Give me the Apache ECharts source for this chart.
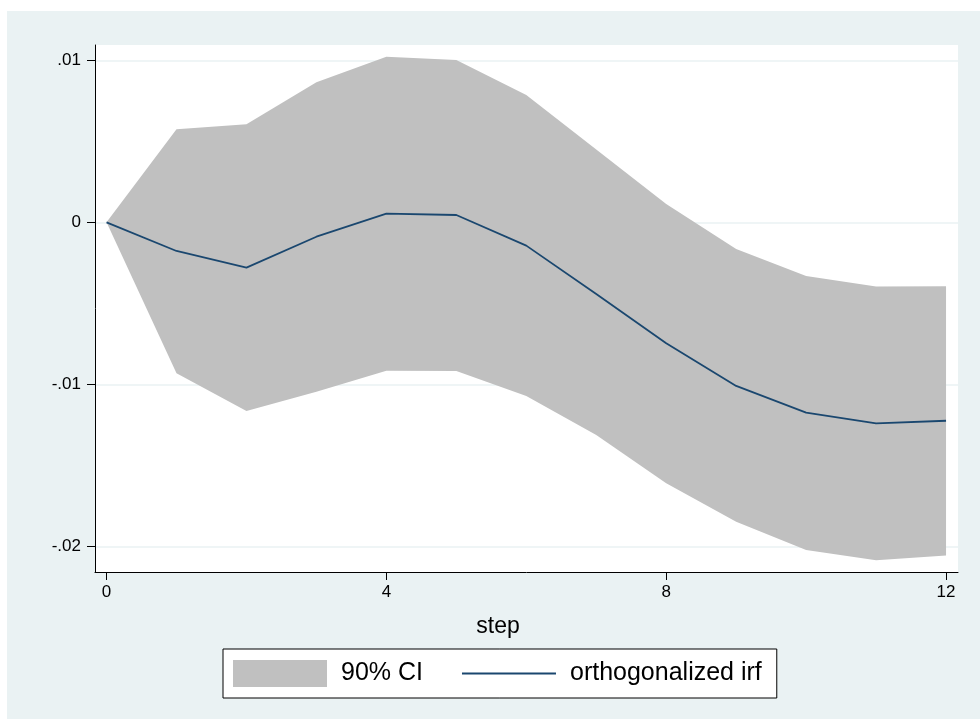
<!DOCTYPE html>
<html>
<head>
<meta charset="utf-8">
<script src="https://cdn.jsdelivr.net/npm/echarts@6/dist/echarts.min.js"></script>
<style>
html,body{margin:0;padding:0;background:#fff;}
#chart{width:980px;height:719px;}
</style>
</head>
<body>
<div id="chart"></div>
<script>
// Data
var steps = [0, 1, 2, 3, 4, 5, 6, 7, 8, 9, 10, 11, 12];
var ciUpper = [0, 0.00574, 0.00605, 0.00864, 0.01022, 0.01002, 0.00786, 0.0045, 0.00113, -0.00165, -0.00331, -0.00397, -0.00395];
var ciLower = [0, -0.00932, -0.01165, -0.01046, -0.00916, -0.00918, -0.01072, -0.01313, -0.01611, -0.01848, -0.02023, -0.02086, -0.02056];
var irf = [0, -0.00177, -0.0028, -0.00089, 0.00053, 0.00045, -0.00144, -0.00443, -0.00747, -0.0101, -0.01175, -0.01241, -0.01225];
var xTicks = [0, 4, 8, 12];
var yTicks = [-0.02, -0.01, 0, 0.01];
var yTickLabels = ['-.02', '-.01', '0', '.01'];
var legendNames = ['90% CI', 'orthogonalized irf'];
var xTitle = 'step';

var font = '"Liberation Sans", Arial, Helvetica, sans-serif';
var bandData = steps.map(function (s, i) { return [s, ciLower[i], ciUpper[i]]; });
var irfData = steps.map(function (s, i) { return [s, irf[i]]; });

function renderBand(params, api) {
  if (params.dataIndex !== 0) return null;
  var pts = [];
  var i;
  for (i = 0; i < steps.length; i++) pts.push(api.coord([steps[i], ciUpper[i]]));
  for (i = steps.length - 1; i >= 0; i--) pts.push(api.coord([steps[i], ciLower[i]]));
  return {
    type: 'polygon',
    shape: {points: pts},
    style: {fill: '#C0C0C0', stroke: null}
  };
}

var chart = echarts.init(document.getElementById('chart'), null, {renderer: 'canvas'});
chart.setOption({
  animation: false,
  backgroundColor: '#ffffff',
  graphic: [
    {type: 'rect', z: -10, silent: true, shape: {x: 7, y: 11, width: 973, height: 708}, style: {fill: '#EAF2F3'}},
    {type: 'text', z: 10, silent: true, x: 498, y: 627,
      style: {text: xTitle, align: 'center', verticalAlign: 'middle', fill: '#000', font: '23px ' + font}}
  ],
  grid: {left: 95, right: 22, top: 45, bottom: 147, show: true, backgroundColor: '#ffffff', borderWidth: 0, containLabel: false},
  legend: {
    left: 223, top: 649,
    padding: [11, 15, 11, 10],
    itemWidth: 94, itemHeight: 27, itemGap: 39,
    backgroundColor: '#ffffff', borderColor: '#000', borderWidth: 1, borderRadius: 0,
    selectedMode: false,
    textStyle: {fontFamily: font, fontSize: 25, color: '#000', padding: [0, 0, 0, 9]},
    data: [
      {name: legendNames[0], icon: 'rect'},
      {name: legendNames[1], icon: 'path://M0,0L94,0L94,2L0,2Z'}
    ]
  },
  xAxis: {
    type: 'value', min: -0.165, max: 12.171,
    axisLine: {show: true, onZero: false, lineStyle: {color: '#000', width: 1}},
    axisTick: {show: true, length: 8, inside: false, customValues: xTicks, lineStyle: {color: '#000', width: 1}},
    axisLabel: {customValues: xTicks, margin: 12, color: '#000', fontFamily: font, fontSize: 17},
    splitLine: {show: false}
  },
  yAxis: {
    type: 'value', min: -0.021586, max: 0.010944,
    axisLine: {show: true, onZero: false, lineStyle: {color: '#000', width: 1}},
    axisTick: {show: true, length: 8, inside: false, customValues: yTicks, lineStyle: {color: '#000', width: 1}},
    axisLabel: {customValues: yTicks, margin: 14, color: '#000', fontFamily: font, fontSize: 17,
      formatter: function (v) {
        for (var i = 0; i < yTicks.length; i++) { if (Math.abs(yTicks[i] - v) < 1e-9) return yTickLabels[i]; }
        return '';
      }},
    splitLine: {show: true, lineStyle: {color: '#EAF2F3', width: 1.5}}
  },
  series: [
    {name: legendNames[0], type: 'custom', data: bandData, renderItem: renderBand,
      encode: {x: 0, y: [1, 2]}, itemStyle: {color: '#C0C0C0'}, silent: true, z: 2, clip: true},
    {name: legendNames[1], type: 'line', data: irfData, symbol: 'none', showSymbol: false,
      itemStyle: {color: '#1A476F'}, lineStyle: {color: '#1A476F', width: 1.8}, silent: true, z: 3}
  ]
});
</script>
</body>
</html>
